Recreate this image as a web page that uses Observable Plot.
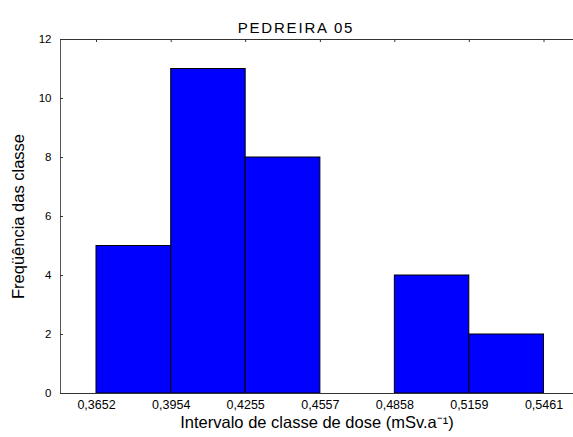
<!DOCTYPE html>
<html>
<head>
<meta charset="utf-8">
<script src="https://cdn.jsdelivr.net/npm/d3@7"></script>
<script src="https://cdn.jsdelivr.net/npm/@observablehq/plot@0.6"></script>
<style>
  html, body { margin: 0; padding: 0; background: #fff; }
  svg { display: block; }
  .chart-title text { letter-spacing: 1.8px; }
</style>
</head>
<body>
<div id="chart"></div>
<script>
// Data
const binEdges = [0.3652, 0.3954, 0.4255, 0.4557, 0.4858, 0.5159, 0.5461];
const counts = [5, 11, 8, 0, 4, 2];
const yTicks = [0, 2, 4, 6, 8, 10, 12];
const title = "PEDREIRA 05";
const xTitle = "Intervalo de classe de dose (mSv.a\u207B\u00B9)";
const yTitle = "Freqüência das classe";

const bins = counts.map((c, i) => ({x1: binEdges[i], x2: binEdges[i + 1], count: c}));

const W = 573, H = 437;
const mL = 60, mR = 0, mT = 39, mB = 44;
const plotW = W - mL - mR, plotH = H - mT - mB;
const xDomain = [0.35065, 0.55802];
const font = "'Liberation Sans', Arial, sans-serif";

const chart = Plot.plot({
  width: W,
  height: H,
  marginLeft: mL,
  marginRight: mR,
  marginTop: mT,
  marginBottom: mB,
  style: {fontFamily: font, fontSize: "12px", color: "#000", background: "#fff"},
  x: {type: "linear", domain: xDomain},
  y: {domain: [0, 12]},
  marks: [
    Plot.rectY(bins, {x1: "x1", x2: "x2", y: "count", fill: "#0000ff", stroke: "#000", strokeWidth: 1}),
    Plot.ruleY([0, 12], {stroke: "#333", strokeWidth: 1}),
    Plot.ruleX([xDomain[0]], {stroke: "#555", strokeWidth: 1}),
    Plot.tickY(yTicks, {y: d => d, stroke: "#333", insetRight: plotW - 3}),
    Plot.tickX(binEdges, {x: d => d, stroke: "#333", insetBottom: plotH - 3}),
    Plot.axisY({ticks: yTicks, tickSize: 0, tickPadding: 9, fontSize: 11.5, label: null, tickFormat: d => String(d)}),
    Plot.axisX({ticks: binEdges, tickSize: 0, tickPadding: 7, fontSize: 12.5, label: null,
      tickFormat: d => String(d).replace(".", ",")}),
    Plot.text([title], {frameAnchor: "top", dx: -21, dy: -17, fontSize: 15, text: d => d, fill: "#000",
      className: "chart-title"}),
    Plot.text([xTitle], {frameAnchor: "bottom", dy: 34, fontSize: 16.5, text: d => d, fill: "#000"}),
    Plot.text([yTitle], {frameAnchor: "left", dx: -42, rotate: -90, textAnchor: "middle", fontSize: 16.5, text: d => d, fill: "#000"})
  ]
});
// apply letter spacing to the title text (fallback if className is unsupported)
for (const t of chart.querySelectorAll("text")) {
  if (t.textContent === title) t.setAttribute("letter-spacing", "1.8");
}
document.getElementById("chart").append(chart);
</script>
</body>
</html>
